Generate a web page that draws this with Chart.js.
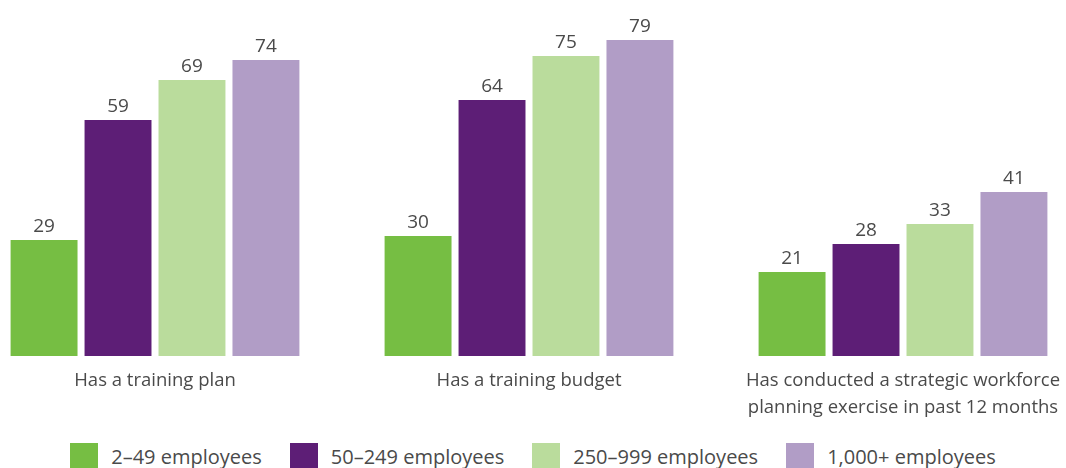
<!DOCTYPE html>
<html>
<head>
<meta charset="utf-8">
<script src="https://cdn.jsdelivr.net/npm/chart.js@4.4.1/dist/chart.umd.min.js"></script>
<style>
  html, body { margin: 0; padding: 0; background: #fff; overflow: hidden; }
  #wrap { position: absolute; left: -32px; top: 0; width: 1122px; height: 424px; }
  #legend {
    position: absolute; left: 0; top: 443px; width: 1066px;
    display: flex; justify-content: center; gap: 28px;
    font: 20px 'Open Sans', sans-serif; color: #4a4a4a;
  }
  #legend .item { display: flex; align-items: center; gap: 13px; line-height: 28px; }
  #legend .swatch { width: 28px; height: 28px; flex: none; }
</style>
</head>
<body>
<div id="wrap"><canvas id="chart"></canvas></div>
<div id="legend"></div>
<script>
// Share of organisations (%) by size band
const categories = [
    'Has a training plan',
    'Has a training budget',
    ['Has conducted a strategic workforce', 'planning exercise in past 12 months']
];
const sizeBands = ['2–49 employees', '50–249 employees', '250–999 employees', '1,000+ employees'];
const small = [29, 30, 21];
const medium = [59, 64, 28];
const large = [69, 75, 33];
const xlarge = [74, 79, 41];
const bandColors = ['#76be43', '#5d1e76', '#badc9c', '#b19dc6'];

const TEXT = '#4a4a4a';
const FONT = "'Open Sans', sans-serif";

// Writes each bar's value just above it
const valueLabels = {
    id: 'valueLabels',
    afterDatasetsDraw(chart) {
        const ctx = chart.ctx;
        ctx.save();
        ctx.font = `19px ${FONT}`;
        ctx.fillStyle = TEXT;
        ctx.textAlign = 'center';
        ctx.textBaseline = 'bottom';
        chart.data.datasets.forEach((ds, i) => {
            chart.getDatasetMeta(i).data.forEach((bar, j) => {
                ctx.fillText(ds.data[j], bar.x, bar.y - 4);
            });
        });
        ctx.restore();
    }
};

// Legend row rendered as HTML from the chart's own legend items
const htmlLegend = {
    id: 'htmlLegend',
    afterUpdate(chart) {
        const box = document.getElementById('legend');
        box.innerHTML = '';
        chart.options.plugins.legend.labels.generateLabels(chart).forEach(item => {
            const el = document.createElement('div');
            el.className = 'item';
            const sw = document.createElement('span');
            sw.className = 'swatch';
            sw.style.background = item.fillStyle;
            const txt = document.createElement('span');
            txt.textContent = item.text;
            el.appendChild(sw);
            el.appendChild(txt);
            box.appendChild(el);
        });
    }
};

const seriesValues = [small, medium, large, xlarge];

new Chart(document.getElementById('chart'), {
    type: 'bar',
    data: {
        labels: categories,
        datasets: seriesValues.map((vals, i) => ({
            label: sizeBands[i],
            data: vals,
            backgroundColor: bandColors[i],
            categoryPercentage: 0.791,
            barPercentage: 0.905
        }))
    },
    options: {
        responsive: true,
        maintainAspectRatio: false,
        animation: false,
        events: [],
        layout: { padding: 0 },
        plugins: {
            tooltip: { enabled: false },
            legend: { display: false }
        },
        scales: {
            x: {
                grid: { display: false },
                border: { display: false },
                ticks: {
                    color: TEXT,
                    padding: 3,
                    font: { family: FONT, size: 18.5, lineHeight: 1.46 },
                    maxRotation: 0
                }
            },
            y: {
                display: false,
                min: 0,
                max: 89
            }
        }
    },
    plugins: [valueLabels, htmlLegend]
});
</script>
</body>
</html>
